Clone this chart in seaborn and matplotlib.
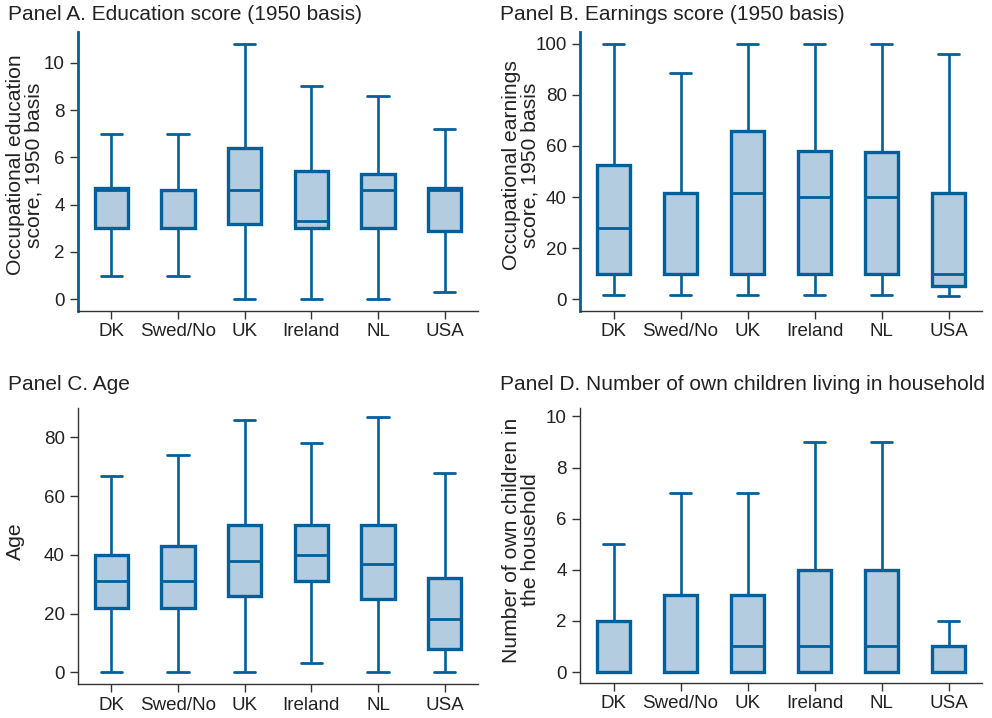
import numpy as np
import pandas as pd
import matplotlib
matplotlib.use("Agg")
import matplotlib.pyplot as plt
import seaborn as sns

countries = ["DK", "Swed/No", "UK", "Ireland", "NL", "USA"]

# five-number summaries per country: min, q1, median, q3, max
edu_min = [1.0, 1.0, 0.0, 0.0, 0.0, 0.3]
edu_q1 = [3.0, 3.0, 3.2, 3.0, 3.0, 2.9]
edu_med = [4.6, 4.6, 4.6, 3.3, 4.6, 4.6]
edu_q3 = [4.7, 4.6, 6.4, 5.4, 5.3, 4.7]
edu_max = [7.0, 7.0, 10.8, 9.0, 8.6, 7.2]

earn_min = [1.5, 1.5, 1.5, 1.5, 1.5, 1.0]
earn_q1 = [10.0, 10.0, 10.0, 10.0, 10.0, 5.0]
earn_med = [28.0, 10.0, 41.5, 40.0, 40.0, 10.0]
earn_q3 = [52.5, 41.5, 66.0, 58.0, 57.5, 41.5]
earn_max = [100.0, 88.5, 100.0, 100.0, 100.0, 96.0]

age_min = [0, 0, 0, 3, 0, 0]
age_q1 = [22, 22, 26, 31, 25, 8]
age_med = [31, 31, 38, 40, 37, 18]
age_q3 = [40, 43, 50, 50, 50, 32]
age_max = [67, 74, 86, 78, 87, 68]

kid_min = [0, 0, 0, 0, 0, 0]
kid_q1 = [0, 0, 0, 0, 0, 0]
kid_med = [0, 0, 1, 1, 1, 0]
kid_q3 = [2, 3, 3, 4, 4, 1]
kid_max = [5, 7, 7, 9, 9, 2]

titles = ["Panel A. Education score (1950 basis)",
          "Panel B. Earnings score (1950 basis)",
          "Panel C. Age",
          "Panel D. Number of own children living in household"]
ylabels = ["Occupational education\nscore, 1950 basis",
           "Occupational earnings\nscore, 1950 basis",
           "Age",
           "Number of own children in\nthe household"]


def summary_frame(mins, q1s, meds, q3s, maxs):
    # five points per group: with linear percentiles, quartiles land on the
    # 2nd/3rd/4th points and full-range whiskers land on min/max
    rows = []
    for c, a, b, m, d, e in zip(countries, mins, q1s, meds, q3s, maxs):
        for v in (a, b, m, d, e):
            rows.append({"country": c, "value": v})
    return pd.DataFrame(rows)


frames = [summary_frame(edu_min, edu_q1, edu_med, edu_q3, edu_max),
          summary_frame(earn_min, earn_q1, earn_med, earn_q3, earn_max),
          summary_frame(age_min, age_q1, age_med, age_q3, age_max),
          summary_frame(kid_min, kid_q1, kid_med, kid_q3, kid_max)]

sns.set_style("ticks")
plt.rcParams["font.family"] = ["Liberation Sans", "DejaVu Sans"]

EDGE = "#00609b"
FILL = "#b4cce0"
AXC = "#333333"

fig = plt.figure(figsize=(9.92, 7.18), dpi=100)
W, H = 992, 718
rects = [(78, 32, 478, 311), (580, 32, 982, 311),
         (78, 408, 478, 684), (580, 408, 982, 683)]
ylims = [(-0.5, 11.3), (-4.7, 104.7), (-4.0, 90.0), (-0.43, 10.33)]
yticks = [[0, 2, 4, 6, 8, 10], [0, 20, 40, 60, 80, 100],
          [0, 20, 40, 60, 80], [0, 2, 4, 6, 8, 10]]
title_pos = [(8, 14), (500, 14), (8, 384), (500, 384)]
# right edge of the (rotated) y label in pixels, and its vertical centre (axes frac)
ylabel_right = [44, 540, 25, 540]
ylabel_cy = [0.523, 0.523, 0.516, 0.52]

for i, df in enumerate(frames):
    l, t, r, b = rects[i]
    ax = fig.add_axes([l / W, 1 - b / H, (r - l) / W, (b - t) / H])
    sns.boxplot(data=df, x="country", y="value", order=countries, ax=ax,
                whis=(0, 100), width=0.5, showfliers=False,
                color=FILL, linecolor=EDGE, linewidth=1.8,
                boxprops=dict(facecolor=FILL, edgecolor=EDGE, linewidth=2.4),
                medianprops=dict(color=EDGE, linewidth=2.0),
                whiskerprops=dict(color=EDGE, linewidth=1.9),
                capprops=dict(color=EDGE, linewidth=2.0),
                capwidths=0.32)
    ax.set_xlim(-0.5, 5.5)
    ax.set_ylim(*ylims[i])
    ax.set_yticks(yticks[i])
    ax.set_xlabel("")
    ax.set_ylabel(ylabels[i], fontsize=15.2, color="#222222",
                  linespacing=1.02)
    ax.yaxis.set_label_coords((ylabel_right[i] - l) / (r - l), ylabel_cy[i])
    ax.tick_params(axis="both", labelsize=13.5, colors=AXC, length=6,
                   width=1.0, labelcolor="#222222", direction="out")
    ax.tick_params(axis="x", pad=3)
    for s in ("top", "right"):
        ax.spines[s].set_visible(False)
    ax.spines["bottom"].set_color(AXC)
    ax.spines["bottom"].set_linewidth(1.0)
    if i < 2:
        ax.spines["left"].set_color(EDGE)
        ax.spines["left"].set_linewidth(2.0)
    else:
        ax.spines["left"].set_color(AXC)
        ax.spines["left"].set_linewidth(1.0)
    tx, ty = title_pos[i]
    fig.text(tx / W, 1 - ty / H, titles[i], fontsize=15.0, color="#222222",
             ha="left", va="center")

fig.savefig("out.png", dpi=100)
